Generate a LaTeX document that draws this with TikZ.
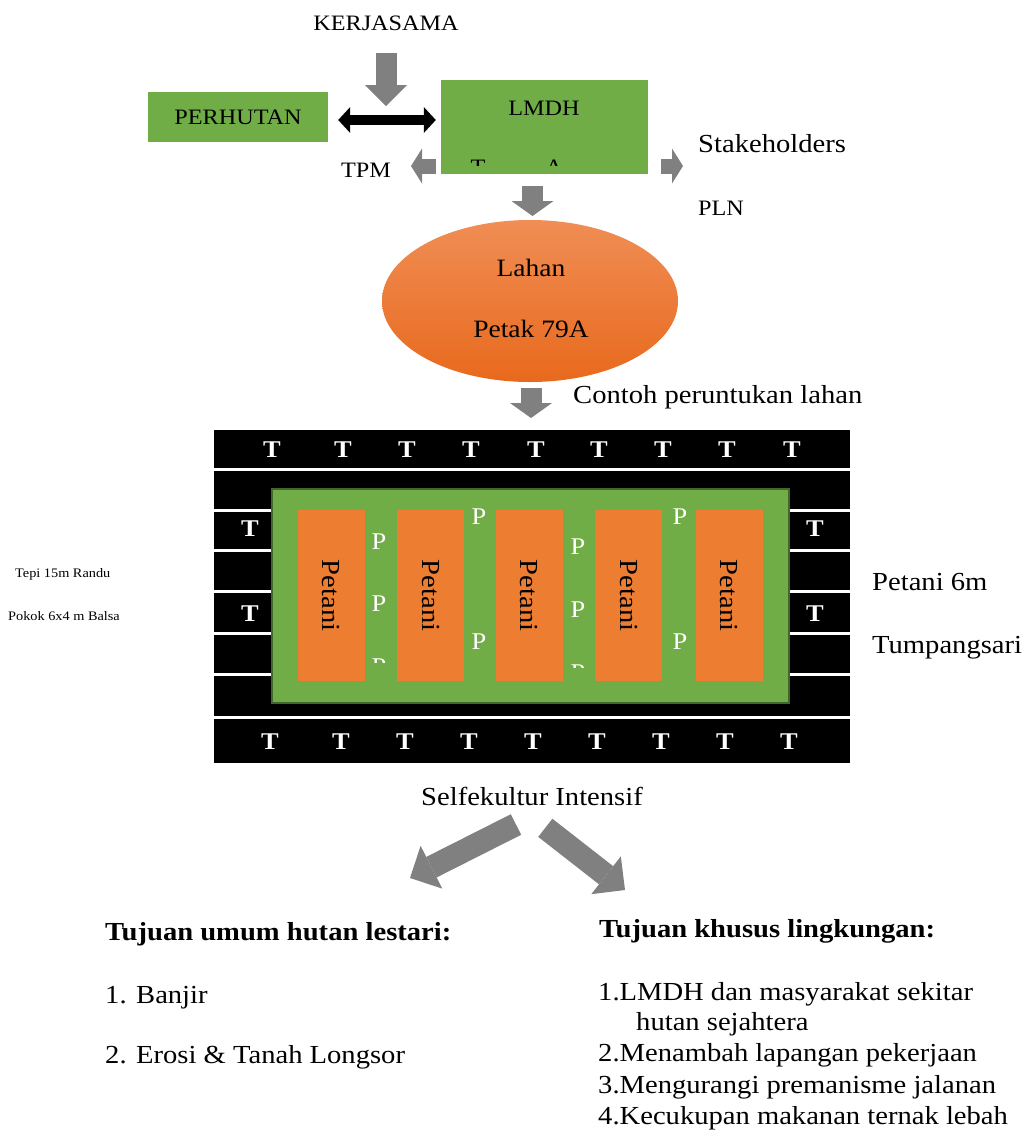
\documentclass[tikz,border=0pt]{standalone}
\usepackage{fontspec}
\setmainfont{Liberation Serif}[FakeStretch=1.1]
\usetikzlibrary{positioning,shapes.geometric,arrows.meta}

\definecolor{arrowgray}{HTML}{808080}
\definecolor{leafgreen}{HTML}{70AD47}
\definecolor{darkleaf}{HTML}{41672C}
\definecolor{petaniorange}{HTML}{ED7D31}
\definecolor{lahantop}{HTML}{F08E55}
\definecolor{lahanbottom}{HTML}{E8691D}

\tikzstyle{greenbox} = [rectangle, fill=leafgreen, inner sep=0pt]
\tikzstyle{midtext} = [inner sep=0pt, font=\fontsize{22}{26}\selectfont]
\tikzstyle{bigtext} = [inner sep=0pt, font=\fontsize{26}{30}\selectfont]
\tikzstyle{smalltext} = [inner sep=0pt, font=\fontsize{13}{15}\selectfont, anchor=base west]
\tikzstyle{treetext} = [inner sep=0pt, text=white, font=\bfseries\fontsize{24}{28}\selectfont, anchor=base]
\tikzstyle{pathtext} = [inner sep=0pt, text=white, font=\fontsize{24}{28}\selectfont, anchor=base]
\tikzstyle{petanibox} = [rectangle, fill=petaniorange, rotate=-90, minimum width=171pt, minimum height=67pt, inner sep=0pt, font=\fontsize{26}{30}\selectfont]
\tikzstyle{blockarrow} = [draw=arrowgray, line width=21pt, -{Triangle[length=15pt, width=42pt, line width=0pt]}]
\tikzstyle{sidearrow} = [draw=arrowgray, line width=15pt, -{Triangle[length=11pt, width=35pt, line width=0pt]}]
\tikzstyle{goalarrow} = [draw=arrowgray, line width=23pt, -{Triangle[length=24pt, width=48pt, line width=0pt]}]
\tikzstyle{linkarrow} = [draw=black, line width=10pt, {Triangle[length=12pt, width=26pt, line width=0pt]}-{Triangle[length=12pt, width=26pt, line width=0pt]}]

\begin{document}
\begin{tikzpicture}[x=1pt, y=-1pt]
        \useasboundingbox (0,0) rectangle (1024,1136);

        % kerjasama
        \node [midtext, anchor=base] (kerjasama) at (386,30) {KERJASAMA};
        \node [greenbox, midtext, minimum width=180pt, minimum height=50pt] (perhutan) at (238,117) {PERHUTAN};
        \node [greenbox, minimum width=207pt, minimum height=94pt] (lmdh) at (544.5,127) {};
        \node [midtext, anchor=base] (lmdhtext) at (544,115) {LMDH};
        \begin{scope}
            \clip (441,155) rectangle (648,165);
            \node [midtext, anchor=base] (lmdhcut1) at (478,174) {T};
            \node [midtext, anchor=base] (lmdhcut2) at (554,174) {A};
        \end{scope}
        \coordinate (kerjatop) at (386,53);
        \coordinate (kerjatip) at (386,106);
        \draw [blockarrow, -{Triangle[length=21pt, width=42pt, line width=0pt]}] (kerjatop) -- (kerjatip);
        \draw [linkarrow, shorten <=10pt, shorten >=5pt] (perhutan.east |- 0,120) -- (lmdh.west |- 0,120);

        \node [midtext, anchor=base west] (tpm) at (341,177.5) {TPM};
        \node [bigtext, anchor=base west] (stakeholders) at (698,152) {Stakeholders};
        \node [midtext, anchor=base west] (pln) at (698,215) {PLN};
        \coordinate (tpmtip) at (411,166);
        \coordinate (stakeholderstip) at (683,166);
        \draw [sidearrow] (lmdh.west |- tpmtip) ++(-5,0) -- (tpmtip);
        \draw [sidearrow] (lmdh.east |- stakeholderstip) ++(13,0) -- (stakeholderstip);

        % lahan
        \node [ellipse, top color=lahantop, bottom color=lahanbottom, minimum width=296pt, minimum height=162pt] (lahan) at (530,301) {};
        \node [bigtext, anchor=base, font=\fontsize{25}{30}\selectfont] (lahantext) at (531,276) {Lahan};
        \node [bigtext, anchor=base, font=\fontsize{25}{30}\selectfont] (petak) at (531,337) {Petak 79A};
        \coordinate (lahantip) at (532.5,216);
        \draw [blockarrow, shorten <=12pt] (lmdh.south -| lahantip) -- (lahantip);
        \node [bigtext, anchor=base west] (contoh) at (573,403) {Contoh peruntukan lahan};
        \coordinate (fieldtip) at (531,418);
        \draw [blockarrow, shorten <=6pt] (lahan.south -| fieldtip) -- (fieldtip);

        % petak layout
        \fill [black] (214,430) rectangle (850,763);
        \draw [white, line width=3pt] (214,469) -- (850,469);
        \draw [white, line width=3pt] (214,510) -- (850,510);
        \draw [white, line width=3pt] (214,550) -- (850,550);
        \draw [white, line width=3pt] (214,591) -- (850,591);
        \draw [white, line width=3pt] (214,633) -- (850,633);
        \draw [white, line width=3pt] (214,674) -- (850,674);
        \draw [white, line width=3pt] (214,717) -- (850,717);
        \draw [fill=leafgreen, draw=darkleaf, line width=2pt] (272,489) rectangle (789,703);

        \node [treetext] (ttop1) at (272,457) {T};
        \node [treetext] (ttop2) at (343,457) {T};
        \node [treetext] (ttop3) at (407,457) {T};
        \node [treetext] (ttop4) at (471,457) {T};
        \node [treetext] (ttop5) at (536,457) {T};
        \node [treetext] (ttop6) at (599,457) {T};
        \node [treetext] (ttop7) at (663,457) {T};
        \node [treetext] (ttop8) at (727,457) {T};
        \node [treetext] (ttop9) at (792,457) {T};
        \node [treetext] (tbot1) at (270,749) {T};
        \node [treetext] (tbot2) at (341,749) {T};
        \node [treetext] (tbot3) at (405,749) {T};
        \node [treetext] (tbot4) at (469,749) {T};
        \node [treetext] (tbot5) at (533,749) {T};
        \node [treetext] (tbot6) at (597,749) {T};
        \node [treetext] (tbot7) at (661,749) {T};
        \node [treetext] (tbot8) at (725,749) {T};
        \node [treetext] (tbot9) at (789,749) {T};
        \node [treetext] (tleft1) at (250,536) {T};
        \node [treetext] (tleft2) at (250,621) {T};
        \node [treetext] (tright1) at (815,536) {T};
        \node [treetext] (tright2) at (815,621) {T};

        \node [petanibox] (petani1) at (331,595.5) {Petani};
        \node [petanibox] (petani2) at (430.5,595.5) {Petani};
        \node [petanibox] (petani3) at (529,595.5) {Petani};
        \node [petanibox] (petani4) at (628.5,595.5) {Petani};
        \node [petanibox] (petani5) at (729,595.5) {Petani};

        \node [pathtext] (pa1) at (379,549) {P};
        \node [pathtext] (pa2) at (379,611) {P};
        \node [pathtext] (pb1) at (479,524) {P};
        \node [pathtext] (pb2) at (479,649) {P};
        \node [pathtext] (pc1) at (578,554) {P};
        \node [pathtext] (pc2) at (578,617) {P};
        \node [pathtext] (pd1) at (680,524) {P};
        \node [pathtext] (pd2) at (680,649) {P};
        \begin{scope}
            \clip (365,650) rectangle (395,662);
            \node [pathtext] (pa3) at (379,674) {P};
        \end{scope}
        \begin{scope}
            \clip (564,655) rectangle (594,667);
            \node [pathtext] (pc3) at (578,680) {P};
        \end{scope}

        \node [smalltext] (tepi) at (15,577) {Tepi 15m Randu};
        \node [smalltext] (pokok) at (8,620) {Pokok 6x4 m Balsa};
        \node [bigtext, anchor=base west] (petani6m) at (872,590) {Petani 6m};
        \node [bigtext, anchor=base west] (tumpangsari) at (872,653) {Tumpangsari};

        % tujuan
        \node [bigtext, anchor=base] (selfekultur) at (532,805) {Selfekultur Intensif};
        \coordinate (umumstart) at (516,824.5);
        \coordinate (umumtip) at (410,878);
        \coordinate (khusustart) at (545.3,827.8);
        \coordinate (khusustip) at (625,890);
        \draw [goalarrow] (umumstart) -- (umumtip);
        \draw [goalarrow] (khusustart) -- (khusustip);

        \node [bigtext, anchor=base west, font=\bfseries\fontsize{26}{30}\selectfont] (umum) at (105,940) {Tujuan umum hutan lestari:};
        \node [bigtext, anchor=base west] (umum1) at (105,1003) {1. Banjir};
        \node [bigtext, anchor=base west] (umum2) at (105,1063) {2. Erosi \& Tanah Longsor};
        \node [bigtext, anchor=base west, font=\bfseries\fontsize{26}{30}\selectfont] (khusus) at (599,937) {Tujuan khusus lingkungan:};
        \node [bigtext, anchor=base west] (khusus1) at (598,1000) {1.LMDH dan masyarakat sekitar};
        \node [bigtext, anchor=base west] (khusus1b) at (636,1030) {hutan sejahtera};
        \node [bigtext, anchor=base west] (khusus2) at (598,1061) {2.Menambah lapangan pekerjaan};
        \node [bigtext, anchor=base west] (khusus3) at (598,1093) {3.Mengurangi premanisme jalanan};
        \node [bigtext, anchor=base west] (khusus4) at (598,1124) {4.Kecukupan makanan ternak lebah};
\end{tikzpicture}
\end{document}
